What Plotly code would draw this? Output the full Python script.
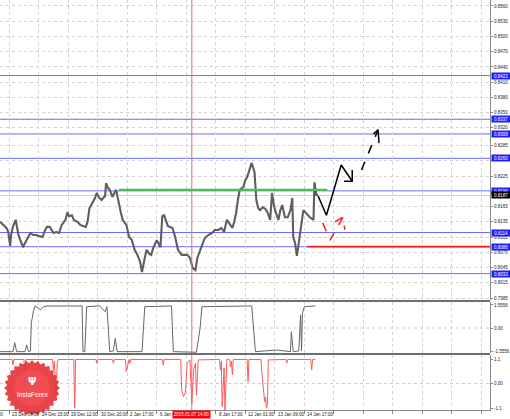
import math
import plotly.graph_objects as go

W, H = 510, 419

# ---------------- data ----------------
price_bar = [0, 2, 4, 7, 9, 11, 12, 14, 17, 20, 22, 24, 25, 27, 29, 33, 36, 39, 42, 46,
             49, 51, 54, 58, 61, 64, 67, 71, 73, 75, 78, 80, 84, 87, 90, 93, 95, 97, 99, 101,
             103, 105, 107, 110, 112, 114, 115, 117, 119, 122, 124, 126, 127, 129, 131, 133, 137, 140, 143, 146,
             149, 152, 154, 157, 159, 162, 164, 166, 168, 170, 174, 176, 178, 180, 182, 187, 190, 193, 197, 203,
             206, 209, 212, 214, 216, 219, 222, 226, 230, 233, 237, 240, 243, 246, 250, 252, 254, 256, 258, 260,
             264, 266, 268, 271, 273, 276, 278, 280, 282, 285, 288, 290, 293, 295, 297, 299, 302, 304, 306, 309,
             312, 315, 317, 318, 320, 322, 324, 326, 329, 331, 333, 336, 340, 341, 343, 345]
price_val = [0.8135, 0.8131, 0.8127, 0.8123, 0.8115, 0.8087, 0.8109, 0.8125, 0.8139, 0.8109, 0.8099, 0.8089, 0.8085, 0.8093, 0.8099, 0.8113, 0.8109, 0.8109, 0.8107, 0.8105,
             0.8119, 0.8125, 0.8125, 0.8113, 0.8115, 0.8113, 0.8129, 0.8139, 0.8154, 0.8146, 0.8148, 0.8139, 0.8135, 0.8129, 0.8127, 0.8125, 0.8135, 0.8162, 0.8168, 0.8174,
             0.8182, 0.8192, 0.8184, 0.8178, 0.8182, 0.8186, 0.8211, 0.8202, 0.8198, 0.8184, 0.8192, 0.8198, 0.8188, 0.8168, 0.8154, 0.8139, 0.8129, 0.8105, 0.8099, 0.8080,
             0.8070, 0.8056, 0.8036, 0.8064, 0.8080, 0.8072, 0.8070, 0.8083, 0.8093, 0.8099, 0.8085, 0.8146, 0.8148, 0.8135, 0.8127, 0.8123, 0.8105, 0.8080, 0.8070, 0.8070,
             0.8064, 0.8044, 0.8040, 0.8064, 0.8074, 0.8085, 0.8103, 0.8109, 0.8113, 0.8119, 0.8119, 0.8123, 0.8115, 0.8139, 0.8129, 0.8123, 0.8135, 0.8152, 0.8178, 0.8198,
             0.8204, 0.8217, 0.8223, 0.8243, 0.8251, 0.8233, 0.8178, 0.8162, 0.8158, 0.8164, 0.8160, 0.8154, 0.8139, 0.8192, 0.8168, 0.8154, 0.8139, 0.8158, 0.8168, 0.8144,
             0.8144, 0.8158, 0.8182, 0.8105, 0.8093, 0.8068, 0.8099, 0.8119, 0.8158, 0.8154, 0.8148, 0.8144, 0.8139, 0.8213, 0.8188, 0.8188]

osc1_bar = [0, 14, 16, 18, 27, 29, 31, 33, 34, 35, 36, 38, 42, 44, 47, 51, 89, 90, 92, 94,
            108, 114, 116, 119, 123, 125, 127, 154, 157, 186, 188, 213, 217, 219, 273, 277, 300, 315, 316, 318,
            324, 326, 327, 328, 330, 342]
osc1_val = [-1.60, -1.60, -0.99, -1.60, -1.60, -1.15, -1.60, -1.55, 0.43, 0.66, 1.10, 1.49, 1.33, 1.22, 1.44, 1.49, 1.49, -1.60, -1.60, 1.44,
            1.49, 1.10, 1.44, -1.60, -1.55, -0.70, -1.60, -1.60, 1.44, 1.49, -1.60, -1.64, -0.02, 1.44, 1.49, -1.60, -1.49, -1.60, -0.25, -1.60,
            -1.55, 0.88, -1.55, 0.99, 1.44, 1.49]

osc2_bar = [0, 13, 14, 15, 26, 27, 28, 57, 58, 59, 60, 61, 62, 63, 80, 81, 82, 104, 105, 106,
            122, 123, 124, 136, 137, 139, 140, 141, 142, 176, 177, 178, 196, 197, 199, 201, 203, 206, 208, 210,
            212, 213, 215, 238, 239, 240, 241, 243, 244, 246, 249, 250, 251, 252, 253, 268, 269, 270, 283, 284,
            286, 287, 288, 289, 290, 291, 310, 311, 312, 337, 338, 339, 342]
osc2_val = [1.08, 1.08, 0.83, 1.08, 1.08, -1.0, 1.08, 1.08, 0.61, 1.0, 0.01, -0.74, 0.9, 1.08, 1.08, -1.11, 1.08, 1.08, 0.91, 1.08,
            1.08, 0.91, 1.08, 1.08, 0.53, 0.91, 1.08, 0.91, 1.08, 1.08, 0.83, 1.08, 1.08, -0.29, -0.59, -0.40, 0.91, 1.06, -0.89, 0.61,
            0.91, -0.52, 1.06, 1.08, 0.61, 1.0, -1.04, 0.7, -1.19, 1.08, 1.08, 0.75, 1.0, 0.38, 1.08, 1.08, 0.08, 1.08, 1.08, 0.5,
            -0.3, -0.82, -0.6, -1.11, -0.9, 1.06, 1.08, 0.91, 1.08, 1.08, 0.61, 1.08, 1.08]

blue_levels = [0.8423, 0.8337, 0.8308, 0.8260, 0.8196, 0.8114, 0.8086, 0.8033]
green_level, green_from, green_to = 0.8198, 129, 355
red_level, red_from = 0.8086, 333
current_price = 0.8187
marked_bar = 208
marked_label = "2015.01.07 14:00"

fc_black_bar = [345, 354, 370, 382]
fc_black_val = [0.8186, 0.8148, 0.8247, 0.8215]
fc_black_head_bar = [373, 382, 382]
fc_black_head_val = [0.8215, 0.8215, 0.8237]
fc_dash_bar = [392, 410]
fc_dash_val = [0.8237, 0.8316]
fc_dash_head_bar = [405, 410, 411]
fc_dash_head_val = [0.8308, 0.8316, 0.8290]
fc_red_bar = [350, 358, 372]
fc_red_val = [0.8133, 0.8099, 0.8144]
fc_red_head_bar = [363, 372, 374]
fc_red_head_val = [0.8135, 0.8144, 0.8119]

price_ticks = [0.8560, 0.8530, 0.8500, 0.8470, 0.8440, 0.8410, 0.8380, 0.8350, 0.8320, 0.8285,
               0.8255, 0.8225, 0.8195, 0.8165, 0.8135, 0.8105, 0.8075, 0.8045, 0.8015, 0.7985]
price_tick_text = ["0.8560", "0.8530", "0.8500", "0.8470", "0.8440", "0.8410", "0.8380", "0.8350",
                   "0.8320", "0.8285", "", "0.8225", "", "0.8165", "0.8135", "0.8105", "0.8075",
                   "0.8045", "0.8015", "0.7985"]
osc1_ticks = [1.5556, 0.0, -1.5556]
osc1_labels = ["1.5556", "0.00", "-1.5556"]
osc2_ticks = [1.1, 0.0, -1.1]
osc2_labels = ["1.1", "0.00", "-1.1"]

time_tick_bars = [10 + 32 * k for k in range(17)]
time_labels = ["23 Dec 07:00", "24 Dec 15:00", "29 Dec 12:00", "30 Dec 20:00", "2 Jan 17:00",
               "6 Jan 01:00", "", "8 Jan 17:00", "12 Jan 01:00", "13 Jan 09:00", "14 Jan 17:00"]
first_cut_label = "21 Dec 23:00"

X_RANGE = [0, 531.4]
FONT = "Liberation Sans"


def px(x):
    return x / W


def py(y):
    return 1 - y / H


fig = go.Figure()

fig.add_trace(go.Scatter(x=price_bar, y=price_val, mode="lines",
                         line=dict(color="#5e5e5e", width=2.1), xaxis="x", yaxis="y",
                         hoverinfo="skip", showlegend=False))
for bx, vy, col, dash in [(fc_black_bar, fc_black_val, "#000000", "solid"),
                          (fc_black_head_bar, fc_black_head_val, "#000000", "solid"),
                          (fc_dash_bar, fc_dash_val, "#000000", "dash"),
                          (fc_dash_head_bar, fc_dash_head_val, "#000000", "solid"),
                          (fc_red_bar, fc_red_val, "#ff2020", "dash"),
                          (fc_red_head_bar, fc_red_head_val, "#ff2020", "dash")]:
    fig.add_trace(go.Scatter(x=bx, y=vy, mode="lines",
                             line=dict(color=col, width=1.5, dash=dash),
                             xaxis="x", yaxis="y", hoverinfo="skip", showlegend=False))

fig.add_trace(go.Scatter(x=osc1_bar, y=osc1_val, mode="lines",
                         line=dict(color="#666666", width=1), xaxis="x", yaxis="y2",
                         hoverinfo="skip", showlegend=False))
fig.add_trace(go.Scatter(x=osc2_bar, y=osc2_val, mode="lines",
                         line=dict(color="#ff5a5a", width=1), xaxis="x", yaxis="y3",
                         hoverinfo="skip", showlegend=False))

shapes = []
shapes.append(dict(type="line", xref="paper", yref="y", x0=0, x1=px(490), y0=current_price,
                   y1=current_price, line=dict(color="#cfcfcf", width=1), layer="below"))
for lv in blue_levels:
    shapes.append(dict(type="line", xref="paper", yref="y", x0=0, x1=px(490), y0=lv, y1=lv,
                       line=dict(color="#6b6bff", width=1), layer="below"))
shapes.append(dict(type="line", xref="x", yref="y", x0=green_from, x1=green_to, y0=green_level,
                   y1=green_level, line=dict(color="#4cbb5e", width=2.2)))
shapes.append(dict(type="line", xref="x", yref="y", x0=red_from, x1=X_RANGE[1], y0=red_level,
                   y1=red_level, line=dict(color="#ff1a1a", width=1.8)))
shapes.append(dict(type="line", xref="x", yref="paper", x0=marked_bar, x1=marked_bar,
                   y0=py(410), y1=1, line=dict(color="#e07070", width=1)))
for yy in (301, 354):
    shapes.append(dict(type="line", xref="paper", yref="paper", x0=0, x1=px(490), y0=py(yy),
                       y1=py(yy), line=dict(color="#6e6e6e", width=2)))
shapes.append(dict(type="line", xref="paper", yref="y2", x0=0, x1=px(490), y0=0, y1=0,
                   line=dict(color="#cccccc", width=1, dash="dot"), layer="below"))
shapes.append(dict(type="line", xref="paper", yref="y3", x0=0, x1=px(490), y0=0, y1=0,
                   line=dict(color="#cccccc", width=1, dash="dot"), layer="below"))

cx, cy = 32, 388
pts = []
n = 28
for i in range(2 * n):
    r = 28 if i % 2 == 0 else 25
    t = math.pi * i / n
    pts.append((px(cx + r * math.cos(t)), py(cy + r * math.sin(t))))
path = "M " + " L ".join(f"{a:.5f},{b:.5f}" for a, b in pts) + " Z"
shapes.append(dict(type="path", xref="paper", yref="paper", path=path,
                   fillcolor="rgba(230,52,58,0.92)", line=dict(width=0)))
shapes.append(dict(type="circle", xref="paper", yref="paper", x0=px(cx - 18), x1=px(cx + 18),
                   y0=py(cy + 18), y1=py(cy - 18), fillcolor="rgba(240,80,84,0.8)",
                   line=dict(width=0)))

annotations = []
for lv in blue_levels:
    annotations.append(dict(xref="paper", yref="y", x=px(491), y=lv, xanchor="left",
                            yanchor="middle", text=f"{lv:.4f}", showarrow=False,
                            font=dict(size=4.5, color="white", family=FONT),
                            bgcolor="#1f1fff", borderpad=0.6, width=17))
annotations.append(dict(xref="paper", yref="y", x=px(491), y=current_price, xanchor="left",
                        yanchor="middle", text=f"{current_price:.4f}", showarrow=False,
                        font=dict(size=4.5, color="white", family=FONT),
                        bgcolor="#000000", borderpad=0.6, width=17))
for b, lab in zip(time_tick_bars, time_labels):
    if lab:
        annotations.append(dict(xref="x", yref="paper", x=b + 1, y=py(414), xanchor="left",
                                yanchor="middle", text=lab, showarrow=False,
                                font=dict(size=4.5, color="#222222", family=FONT)))
annotations.append(dict(xref="paper", yref="paper", x=px(4.5), y=py(414), xanchor="right",
                        yanchor="middle", text=first_cut_label, showarrow=False,
                        font=dict(size=4.5, color="#222222", family=FONT)))
annotations.append(dict(xref="x", yref="paper", x=marked_bar, y=py(414), xanchor="center",
                        yanchor="middle", text=marked_label, showarrow=False,
                        font=dict(size=4.5, color="white", family=FONT),
                        bgcolor="#ff0000", borderpad=0.8))
annotations.append(dict(xref="paper", yref="paper", x=px(cx), y=py(381), xanchor="center",
                        yanchor="middle", text="<b>Ψ</b>", showarrow=False,
                        font=dict(size=10, color="white", family="DejaVu Sans")))
annotations.append(dict(xref="paper", yref="paper", x=px(cx), y=py(394), xanchor="center",
                        yanchor="middle", text="InstaForex", showarrow=False,
                        font=dict(size=6.5, color="white", family=FONT)))

axis_common = dict(side="right", anchor="x", showline=True, linecolor="#8a8a8a", linewidth=1,
                   ticks="outside", ticklen=2, tickcolor="#8a8a8a",
                   tickfont=dict(size=4.5, color="#222222", family=FONT), zeroline=False,
                   fixedrange=True, automargin=False)

fig.update_layout(
    width=W, height=H, margin=dict(l=0, r=0, t=0, b=0, pad=0),
    paper_bgcolor="white", plot_bgcolor="white", showlegend=False,
    xaxis=dict(domain=[0, px(490)], range=X_RANGE, anchor="y3", showline=True,
               linecolor="#8a8a8a", ticks="outside", ticklen=3, tickcolor="#8a8a8a",
               tickvals=time_tick_bars, showticklabels=False, showgrid=True,
               gridcolor="#d2d2d2", griddash="dot", zeroline=False, automargin=False,
               fixedrange=True),
    yaxis=dict(domain=[py(300), 1], range=[0.79811, 0.85718], tickvals=price_ticks,
               ticktext=price_tick_text, showgrid=True,
               gridcolor="#d2d2d2", griddash="dot", **axis_common),
    yaxis2=dict(domain=[py(353), py(302)], range=[-1.691, 1.758], tickvals=osc1_ticks,
                ticktext=osc1_labels, showgrid=False, **axis_common),
    yaxis3=dict(domain=[py(410), py(355)], range=[-1.19, 1.28], tickvals=osc2_ticks,
                ticktext=osc2_labels, showgrid=False, **axis_common),
    shapes=shapes, annotations=annotations,
)

fig.write_html("out.html", config={"displayModeBar": False},
               post_script="document.body.style.margin='0';document.body.style.padding='0';")
